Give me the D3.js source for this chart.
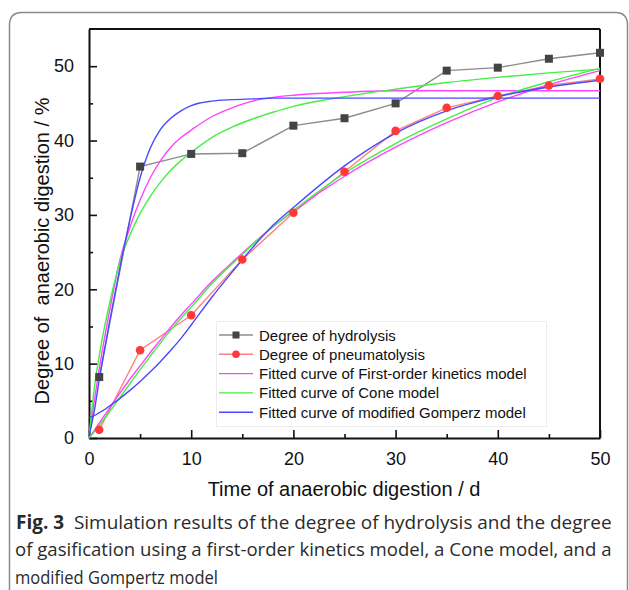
<!DOCTYPE html>
<html>
<head>
<meta charset="utf-8">
<script src="https://cdn.jsdelivr.net/npm/d3@7"></script>
<style>
  body { margin: 0; background: #fff; }
  text { font-family: "Liberation Sans", Arial, sans-serif; }
  text.cap { font-family: "Open Sans", "Noto Sans", sans-serif; }
</style>
</head>
<body>
<div id="chart"></div>
<script>
// measured data points
var days = [1, 5, 10, 15, 20, 25, 30, 35, 40, 45, 50];
var hydrolysis = [8.2, 36.5, 38.2, 38.3, 42.0, 43.0, 45.0, 49.4, 49.8, 51.0, 51.8];
var pneumatolysis = [1.1, 11.8, 16.5, 24.0, 30.3, 35.8, 41.3, 44.4, 46.0, 47.4, 48.3];

// fitted curves at these days
var fitDays = [0, 0.5, 1, 1.5, 2, 3, 4, 5, 6, 7, 8, 9, 10, 12, 14, 16, 18, 20, 25, 30, 35, 40, 45, 50];
var firstOrderH = [0, 4.8, 9.3, 13.3, 17.0, 23.8, 28.3, 32.0, 35.0, 37.3, 39.1, 40.4, 41.4, 43.2, 44.4, 45.3, 45.8, 46.1, 46.5, 46.7, 46.7, 46.7, 46.7, 46.7];
var coneH = [0, 6.5, 11.0, 14.8, 18.0, 23.6, 27.3, 30.2, 32.5, 34.4, 36.0, 37.3, 38.4, 40.4, 41.8, 42.9, 43.8, 44.6, 45.9, 46.9, 47.8, 48.5, 49.1, 49.6];
var gompertzH = [0.2, 3.5, 7.8, 11.7, 15.5, 22.7, 29.3, 35.0, 39.0, 41.5, 43.0, 44.0, 44.7, 45.3, 45.5, 45.6, 45.7, 45.7, 45.7, 45.7, 45.7, 45.7, 45.7, 45.7];
var firstOrderP = [0, 1.0, 2.0, 3.0, 4.0, 6.0, 7.9, 9.7, 11.5, 13.2, 14.9, 16.5, 18.0, 21.0, 23.6, 26.1, 28.4, 30.5, 35.2, 39.1, 42.4, 45.2, 47.5, 49.4];
var coneP = [0, 0.8, 1.7, 2.6, 3.5, 5.4, 7.3, 9.2, 11.0, 12.8, 14.5, 16.1, 17.6, 20.7, 23.4, 26.0, 28.4, 30.6, 35.6, 39.6, 42.9, 45.8, 47.9, 49.7];
var gompertzP = [2.7, 3.0, 3.4, 3.8, 4.3, 5.3, 6.4, 7.6, 8.9, 10.3, 11.8, 13.4, 15.2, 18.9, 22.3, 25.6, 28.6, 31.0, 36.6, 41.0, 44.0, 45.9, 47.2, 48.1];

var xTicks = [0, 10, 20, 30, 40, 50];
var yTicks = [0, 10, 20, 30, 40, 50];
var legendLabels = ["Degree of hydrolysis", "Degree of pneumatolysis",
  "Fitted curve of First-order kinetics model", "Fitted curve of Cone model",
  "Fitted curve of modified Gomperz model"];
var captionLines = ["  Simulation results of the degree of hydrolysis and the degree",
  "of gasification using a first-order kinetics model, a Cone model, and a",
  "modified Gompertz model"];
var captionWidths = [596, 597, 203];

var W = 629, H = 590;
var plotLeft = 89, plotRight = 600, plotTop = 29, plotBottom = 438;

var svg = d3.select("#chart").append("svg")
    .attr("width", W)
    .attr("height", H);

svg.append("rect").attr("width", W).attr("height", H).attr("fill", "#fff");

// rounded frame around figure + caption
svg.append("path")
    .attr("d", "M9.5,600 V25 Q9.5,12.5 22,12.5 H615 Q627.5,12.5 627.5,25 V600")
    .attr("fill", "none")
    .attr("stroke", "#8a8a8a")
    .attr("stroke-width", 1.5);

var x = d3.scaleLinear().domain([0, 50]).range([plotLeft, plotRight]);
var y = d3.scaleLinear().domain([0, 55]).range([plotBottom, plotTop]);

// axes, ticks inside
var xAxis = d3.axisBottom(x).tickValues(xTicks).tickSizeInner(-8).tickSizeOuter(0).tickPadding(14);
var yAxis = d3.axisLeft(y).tickValues(yTicks).tickSizeInner(-8).tickSizeOuter(0).tickPadding(14);

var gx = svg.append("g").attr("transform", "translate(0," + plotBottom + ")").call(xAxis);
var gy = svg.append("g").attr("transform", "translate(" + plotLeft + ",0)").call(yAxis);

// minor ticks
svg.append("g").attr("transform", "translate(0," + plotBottom + ")")
    .call(d3.axisBottom(x).tickValues([5, 15, 25, 35, 45]).tickSizeInner(-4).tickSizeOuter(0).tickFormat(""))
    .select(".domain").remove();
svg.append("g").attr("transform", "translate(" + plotLeft + ",0)")
    .call(d3.axisLeft(y).tickValues([5, 15, 25, 35, 45]).tickSizeInner(-4).tickSizeOuter(0).tickFormat(""))
    .select(".domain").remove();

svg.selectAll(".tick line").attr("stroke", "#111").attr("stroke-width", 1.6);
svg.selectAll(".domain").attr("stroke", "#111").attr("stroke-width", 2);
gx.selectAll("text").attr("font-size", 18).attr("fill", "#111");
gy.selectAll("text").attr("font-size", 18).attr("fill", "#111").attr("dx", "-1");

// top and right frame
svg.append("line").attr("x1", plotLeft).attr("x2", plotRight).attr("y1", plotTop).attr("y2", plotTop)
    .attr("stroke", "#111").attr("stroke-width", 1.8);
svg.append("line").attr("x1", plotRight).attr("x2", plotRight).attr("y1", plotTop).attr("y2", plotBottom)
    .attr("stroke", "#111").attr("stroke-width", 2);

var plot = svg.append("g");

var line = d3.line()
    .x(function(d) { return x(d[0]); })
    .y(function(d) { return y(d[1]); });
var smooth = d3.line()
    .curve(d3.curveMonotoneX)
    .x(function(d) { return x(d[0]); })
    .y(function(d) { return y(d[1]); });

function pairs(xs, ys) { return xs.map(function(v, i) { return [v, ys[i]]; }); }

// data lines
plot.append("path").attr("d", line(pairs(days, hydrolysis)))
    .attr("fill", "none").attr("stroke", "#8c8c8c").attr("stroke-width", 1.4);
plot.append("path").attr("d", line(pairs(days, pneumatolysis)))
    .attr("fill", "none").attr("stroke", "#ff8080").attr("stroke-width", 1.4);

// fitted curves
var fits = [
  {vals: firstOrderH, color: "#ff44ff"},
  {vals: firstOrderP, color: "#ff44ff"},
  {vals: coneH, color: "#44ee44"},
  {vals: coneP, color: "#44ee44"},
  {vals: gompertzH, color: "#4848ff"},
  {vals: gompertzP, color: "#4848ff"}
];
fits.forEach(function(f) {
  plot.append("path").attr("d", smooth(pairs(fitDays, f.vals)))
      .attr("fill", "none").attr("stroke", f.color).attr("stroke-width", 1.4);
});

// markers
plot.selectAll(".sq").data(pairs(days, hydrolysis)).enter().append("rect")
    .attr("x", function(d) { return x(d[0]) - 4; })
    .attr("y", function(d) { return y(d[1]) - 4; })
    .attr("width", 8).attr("height", 8)
    .attr("fill", "#444");
plot.selectAll(".dot").data(pairs(days, pneumatolysis)).enter().append("circle")
    .attr("cx", function(d) { return x(d[0]); })
    .attr("cy", function(d) { return y(d[1]); })
    .attr("r", 4.3)
    .attr("fill", "#ff3838");

// legend
var lg = svg.append("g");
lg.append("rect").attr("x", 216.5).attr("y", 321.5).attr("width", 330).attr("height", 105)
    .attr("fill", "#fff").attr("stroke", "#ececec");
var legendStyles = [
  {color: "#8c8c8c", mark: "sq"},
  {color: "#ff8080", mark: "dot"},
  {color: "#ff44ff"},
  {color: "#44ee44"},
  {color: "#4848ff"}
];
legendLabels.forEach(function(t, i) {
  var yy = 335 + i * 19.3;
  lg.append("line").attr("x1", 219).attr("x2", 253).attr("y1", yy).attr("y2", yy)
      .attr("stroke", legendStyles[i].color).attr("stroke-width", 1.4);
  if (legendStyles[i].mark == "sq")
    lg.append("rect").attr("x", 232.5).attr("y", yy - 3.5).attr("width", 7).attr("height", 7).attr("fill", "#444");
  if (legendStyles[i].mark == "dot")
    lg.append("circle").attr("cx", 236).attr("cy", yy).attr("r", 3.8).attr("fill", "#ff3838");
  lg.append("text").attr("x", 259).attr("y", yy + 5.5)
      .attr("font-size", 15).attr("fill", "#111").text(t);
});

// axis titles
svg.append("text")
    .attr("x", 344).attr("y", 496)
    .attr("text-anchor", "middle")
    .attr("font-size", 20).attr("fill", "#111")
    .text("Time of anaerobic digestion / d");
svg.append("text")
    .attr("transform", "translate(49,251) rotate(-90)")
    .attr("text-anchor", "middle")
    .attr("font-size", 20).attr("fill", "#111")
    .style("white-space", "pre")
    .text("Degree of  anaerobic digestion / %");

// caption, each line squeezed to the width it has in the figure
captionLines.forEach(function(t, i) {
  var g = svg.append("g");
  var el = g.append("text").attr("class", "cap").attr("fill", "#2a2a2a")
      .attr("x", 0).attr("y", 529 + i * 27.5).attr("font-size", 19)
      .style("white-space", "pre");
  if (i == 0) el.append("tspan").attr("font-weight", "bold").text("Fig. 3");
  el.append("tspan").text(t);
  var sx = captionWidths[i] / el.node().getComputedTextLength();
  g.attr("transform", "translate(" + (i == 0 ? 16 : 15) + ",0) scale(" + sx + ",1)");
});
</script>
</body>
</html>
